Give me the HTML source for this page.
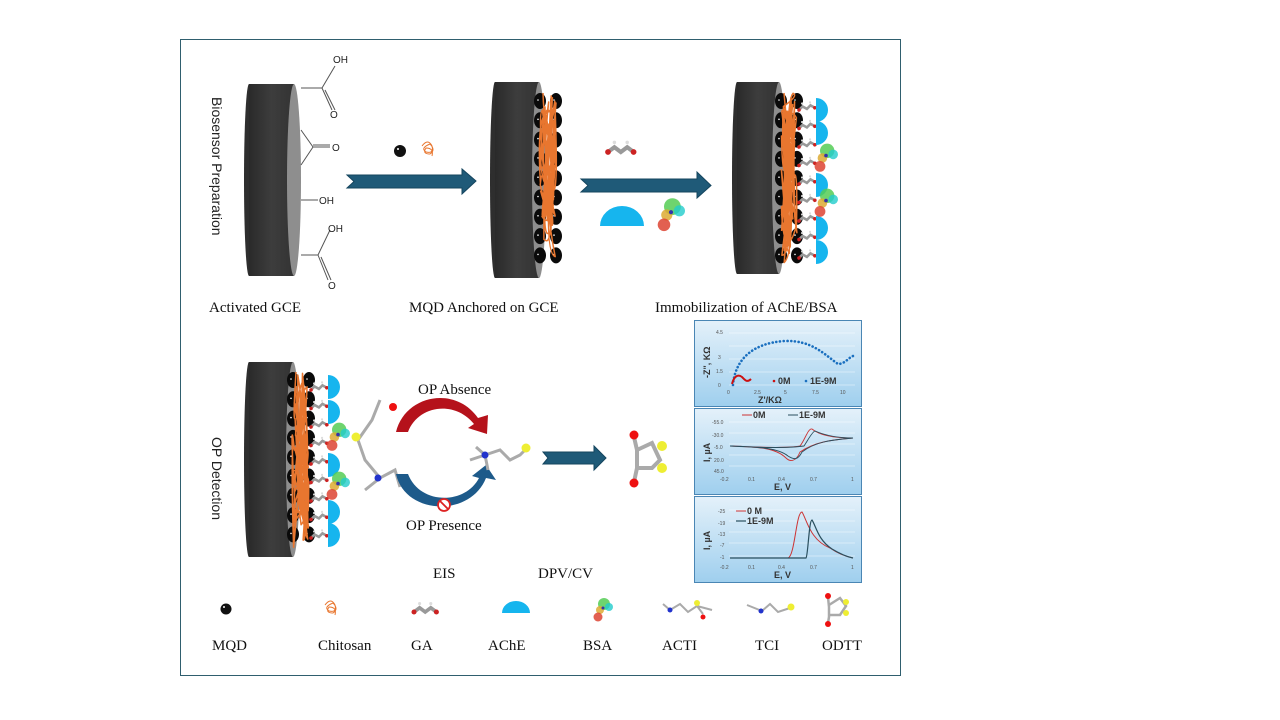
<!DOCTYPE html>
<html><head><meta charset="utf-8"><style>
html,body{margin:0;padding:0;background:#fff;}
svg{display:block;}
.t{font-family:"Liberation Serif",serif;font-size:15px;fill:#111;}
.s{font-family:"Liberation Sans",sans-serif;fill:#222;}
.ax{font-family:"Liberation Sans",sans-serif;font-size:5px;fill:#555;}
.lb{font-family:"Liberation Sans",sans-serif;font-size:9px;font-weight:bold;fill:#333;}
</style></head><body>
<svg id="s" width="1280" height="720" viewBox="0 0 1280 720" xmlns="http://www.w3.org/2000/svg">
<defs>
<linearGradient id="pg" x1="0" y1="0" x2="0" y2="1"><stop offset="0" stop-color="#e4f1fa"/><stop offset="1" stop-color="#9fcfee"/></linearGradient>
<linearGradient id="cyl" x1="0" y1="0" x2="1" y2="0"><stop offset="0" stop-color="#2a2a2a"/><stop offset="0.5" stop-color="#3d3d3d"/><stop offset="1" stop-color="#333"/></linearGradient>
<g id="ga"><path d="M0 0 l4 -3 l4 3 l4 -3 l4 3" fill="none" stroke="#999" stroke-width="2.6"/><circle cx="0" cy="0" r="1.8" fill="#c22"/><circle cx="16" cy="0" r="1.8" fill="#c22"/><circle cx="4" cy="-6" r="1.1" fill="#ddd"/><circle cx="12" cy="-6" r="1.1" fill="#ddd"/></g>
<g id="bsa"><circle cx="6" cy="-6" r="6" fill="#5c5" opacity=".85"/><circle cx="11" cy="-3" r="4" fill="#2cc" opacity=".8"/><circle cx="2" cy="0" r="4" fill="#da3" opacity=".85"/><circle cx="0" cy="7" r="4.5" fill="#d43" opacity=".85"/><circle cx="5" cy="-2" r="1.5" fill="#33a"/></g>
</defs>
<rect x="180.5" y="39.5" width="720" height="636" fill="#fff" stroke="#2f5e6e" stroke-width="1"/>

<text class="s" font-size="14" transform="translate(212,97) rotate(90)">Biosensor Preparation</text>
<text class="s" font-size="14" transform="translate(212,437) rotate(90)">OP Detection</text>

<g id="elecs"></g>

<g stroke="#555" stroke-width="1" fill="none">
<path d="M301 88 L322 88 L335 66 M322 88 L332 110 M325 90 L335 110"/>
<path d="M301 130 L313 147 L301 165 M313 147 L330 147 M313 145 L330 145"/>
<path d="M301 200 L318 200"/>
<path d="M301 255 L318 255 L330 230 M318 255 L328 280 M321 257 L331 280"/>
</g>
<g class="s" font-size="10">
<text x="333" y="63">OH</text><text x="330" y="118">O</text>
<text x="332" y="151">O</text><text x="319" y="204">OH</text>
<text x="328" y="232">OH</text><text x="328" y="289">O</text>
</g>

<path d="M347 175 L462 175 L462 169 L476 181 L462 194 L462 188 L347 188 L354 181.5 Z" fill="#1f5a78" stroke="#15455e"/>
<path d="M581 179 L697 179 L697 172 L711 185.5 L697 198 L697 192 L581 192 L588 185.5 Z" fill="#1f5a78" stroke="#15455e"/>
<path d="M543 452 L594 452 L594 446 L606 458 L594 470 L594 464 L543 464 L548 458 Z" fill="#1f5a78" stroke="#15455e"/>

<circle cx="400" cy="151" r="6" fill="#111"/><circle cx="398" cy="149" r="1" fill="#fff"/>
<g fill="none" stroke="#e8762f" stroke-width="1"><path d="M422 146 q6 -8 10 0 q2 8 -6 6 q-6 -4 4 -8 q6 6 0 10 q-8 0 -4 -6 q8 0 6 8"/></g>

<g transform="translate(608,152) scale(1.6)"><use href="#ga"/></g>
<path d="M600 226 A22 20 0 0 1 644 226 Z" fill="#16b5ee"/>
<g transform="translate(664,215) scale(1.4)"><use href="#bsa"/></g>

<text class="t" x="209" y="312">Activated GCE</text>
<text class="t" x="409" y="312">MQD Anchored on GCE</text>
<text class="t" x="655" y="312">Immobilization of AChE/BSA</text>

<g>
<path d="M380 400 L372 420 L358 440 L365 460 L380 478 L395 470 L400 487 M380 478 L365 490" stroke="#aaa" stroke-width="3" fill="none"/>
<circle cx="393" cy="407" r="4" fill="#e11"/><circle cx="356" cy="437" r="4.5" fill="#ee3"/>
<circle cx="378" cy="478" r="3.5" fill="#23c"/>
</g>
<path d="M396 432 C405 395 455 385 478 418 L488 415 L487 434 L468 428 L474 424 C455 400 418 405 408 432 Z" fill="#b5121b"/>
<path d="M396 474 C405 515 470 518 486 478 L496 480 L486 465 L472 476 L479 478 C465 505 420 505 408 474 Z" fill="#1d5a8a"/>
<circle cx="444" cy="505" r="6" fill="#fff" stroke="#d22" stroke-width="1.8"/><path d="M440 501 L448 509" stroke="#d22" stroke-width="1.8"/>
<text class="t" x="418" y="394">OP Absence</text>
<text class="t" x="406" y="530">OP Presence</text>
<g>
<path d="M470 460 L485 455 L500 450 L510 460 L520 455 L527 448 M485 455 L488 470 M485 455 L476 447" stroke="#aaa" stroke-width="3" fill="none"/>
<circle cx="485" cy="455" r="3.5" fill="#23c"/><circle cx="526" cy="448" r="4.5" fill="#ee3"/>
</g>
<g>
<path d="M634 437 L637 450 L637 468 L634 482 M637 450 L652 443 L660 460 L652 468 L637 468" stroke="#aaa" stroke-width="4" fill="none"/>
<circle cx="634" cy="435" r="4.5" fill="#e11"/><circle cx="634" cy="483" r="4.5" fill="#e11"/>
<circle cx="662" cy="446" r="5" fill="#ee3"/><circle cx="662" cy="468" r="5" fill="#ee3"/>
</g>
<text class="t" x="433" y="578">EIS</text>
<text class="t" x="538" y="578">DPV/CV</text>

<g>
<rect x="694.5" y="320.5" width="167" height="86" fill="url(#pg)" stroke="#4a86b4"/>
<rect x="694.5" y="408.5" width="167" height="86" fill="url(#pg)" stroke="#4a86b4"/>
<rect x="694.5" y="496.5" width="167" height="86" fill="url(#pg)" stroke="#4a86b4"/>
<g stroke="#fff" stroke-width=".6" opacity=".8">
<path d="M729 333 H855 M729 346 H855 M729 359 H855 M729 372 H855 M729 385 H855"/>
<path d="M729 422 H855 M729 433 H855 M729 444 H855 M729 455 H855 M729 466 H855"/>
<path d="M729 510 H855 M729 521 H855 M729 532 H855 M729 543 H855 M729 556 H855"/>
</g>
<g class="ax">
<text x="716" y="334">4.5</text><text x="718" y="359">3</text><text x="716" y="373">1.5</text><text x="718" y="387">0</text>
<text x="727" y="394">0</text><text x="754" y="394">2.5</text><text x="784" y="394">5</text><text x="812" y="394">7.5</text><text x="840" y="394">10</text>
<text x="712" y="424">-55.0</text><text x="712" y="437">-30.0</text><text x="714" y="449">-5.0</text><text x="714" y="462">20.0</text><text x="714" y="473">45.0</text>
<text x="720" y="481">-0.2</text><text x="748" y="481">0.1</text><text x="778" y="481">0.4</text><text x="810" y="481">0.7</text><text x="851" y="481">1</text>
<text x="718" y="513">-25</text><text x="718" y="525">-19</text><text x="718" y="536">-13</text><text x="720" y="547">-7</text><text x="720" y="559">-1</text>
<text x="720" y="569">-0.2</text><text x="748" y="569">0.1</text><text x="778" y="569">0.4</text><text x="810" y="569">0.7</text><text x="851" y="569">1</text>
</g>
<text class="lb" x="758" y="403">Z'/KΩ</text>
<text class="lb" x="774" y="490">E, V</text>
<text class="lb" x="774" y="578">E, V</text>
<text class="lb" transform="translate(710,378) rotate(-90)">-Z", KΩ</text>
<text class="lb" transform="translate(710,462) rotate(-90)">I, µA</text>
<text class="lb" transform="translate(710,550) rotate(-90)">I, µA</text>
<path d="M733 385 C735 360 752 343 785 341 C812 340 825 355 838 364 C845 364 848 358 853 356" fill="none" stroke="#1a6fbf" stroke-width="2.6" stroke-dasharray="0.1 3.6" stroke-linecap="round"/>
<path d="M732 384 C734 376 738 374 742 377 C745 380 747 383 751 379" fill="none" stroke="#c11" stroke-width="2"/>
<circle cx="774" cy="381" r="1.3" fill="#c11"/><text class="lb" x="778" y="384" font-size="7">0M</text>
<circle cx="806" cy="381" r="1.3" fill="#1a6fbf"/><text class="lb" x="810" y="384" font-size="7">1E-9M</text>
<path d="M730 446 C770 448 790 448 800 446 C805 440 808 428 812 429 C818 434 830 438 853 438 C830 440 815 442 800 452 C796 462 790 462 786 458 C776 448 760 447 730 446" fill="none" stroke="#c33" stroke-width=".9"/>
<path d="M730 446 C770 448 790 448 804 446 C808 440 812 432 815 431 C822 434 835 438 853 438 C830 440 815 442 802 452 C798 460 794 460 788 456 C778 448 760 447 730 446" fill="none" stroke="#2a4f5e" stroke-width=".9"/>
<path d="M742 415 H752" stroke-width="1" stroke="#c33"/><path d="M788 415 H798" stroke="#2a4f5e"/>
<text class="lb" x="753" y="418" font-size="7">0M</text><text class="lb" x="799" y="418" font-size="7">1E-9M</text>
<path d="M730 558 L788 558 C795 556 796 512 802 512 C807 520 810 540 830 548 C840 555 848 557 853 558" fill="none" stroke="#c33" stroke-width="1"/>
<path d="M730 558 L806 558 C808 556 809 520 812 520 C816 526 818 540 832 549 C842 555 848 557 853 558" fill="none" stroke="#2a4f5e" stroke-width="1.2"/>
<path d="M736 511 H746" stroke="#c33"/><path d="M736 521 H746" stroke="#2a4f5e" stroke-width="1.2"/>
<text class="lb" x="747" y="514" font-size="7">0 M</text><text class="lb" x="747" y="524" font-size="7">1E-9M</text>
</g>

<circle cx="226" cy="609" r="5.5" fill="#111"/><circle cx="224" cy="607" r="1" fill="#fff"/>
<g fill="none" stroke="#e8762f" stroke-width="1"><path d="M325 605 q6 -8 10 0 q2 8 -6 6 q-6 -4 4 -8 q6 6 0 10 q-8 0 -4 -6 q8 0 6 8"/></g>
<g transform="translate(414,612) scale(1.4)"><use href="#ga"/></g>
<path d="M502 613 A14 12 0 0 1 530 613 Z" fill="#16b5ee"/>
<g transform="translate(598,610)"><use href="#bsa"/></g>
<g stroke="#aaa" stroke-width="2" fill="none"><path d="M663 604 L670 610 L680 604 L688 612 L697 606 L703 614 M697 606 L712 610"/><path d="M747 605 L762 611 L770 604 L778 612 L790 608"/></g>
<circle cx="670" cy="610" r="2.5" fill="#23c"/><circle cx="697" cy="603" r="3" fill="#ee3"/><circle cx="703" cy="617" r="2.5" fill="#e11"/>
<circle cx="761" cy="611" r="2.5" fill="#23c"/><circle cx="791" cy="607" r="3.5" fill="#ee3"/>
<g stroke="#aaa" stroke-width="2.5" fill="none"><path d="M828 597 L829 607 L829 617 L828 623 M829 605 L840 598 L846 606 L840 615 L829 615"/></g>
<circle cx="828" cy="596" r="3" fill="#e11"/><circle cx="828" cy="624" r="3" fill="#e11"/><circle cx="846" cy="602" r="3" fill="#ee3"/><circle cx="846" cy="613" r="3" fill="#ee3"/>

<text class="t" x="212" y="650">MQD</text>
<text class="t" x="318" y="650">Chitosan</text>
<text class="t" x="411" y="650">GA</text>
<text class="t" x="488" y="650">AChE</text>
<text class="t" x="583" y="650">BSA</text>
<text class="t" x="662" y="650">ACTI</text>
<text class="t" x="755" y="650">TCI</text>
<text class="t" x="822" y="650">ODTT</text>
</svg>
<script>
(function(){
var NS="http://www.w3.org/2000/svg",g=document.getElementById("elecs");
function el(t,a){var e=document.createElementNS(NS,t);for(var k in a)e.setAttribute(k,a[k]);g.appendChild(e);return e;}
function cyl(x,y1,y2,w){var cy=(y1+y2)/2,ry=(y2-y1)/2;
el("ellipse",{cx:x+5,cy:cy,rx:5,ry:ry,fill:"#2e2e2e"});
el("rect",{x:x+5,y:y1,width:w,height:y2-y1,fill:"url(#cyl)"});
el("ellipse",{cx:x+5+w,cy:cy,rx:7,ry:ry,fill:"#8e8e8e"});}
var seed=3;function r(){seed=(seed*9301+49297)%233280;return seed/233280;}
function mqd(x,y1,y2){for(var y=y1;y<=y2;y+=19.3){[x,x+16].forEach(function(cx){el("ellipse",{cx:cx,cy:y,rx:6,ry:8,fill:"#0a0a0a"});el("circle",{cx:cx-2,cy:y-1,r:.8,fill:"#fff"});});}
var d="M"+(x+3)+" "+(y1-8);for(var i=0;i<45;i++){d+=" Q"+(x-4+r()*24).toFixed(1)+" "+(y1-8+r()*(y2-y1+16)).toFixed(1)+" "+(x+r()*16).toFixed(1)+" "+(y1-8+r()*(y2-y1+16)).toFixed(1);}
el("path",{d:d,fill:"none",stroke:"#e8762f","stroke-width":1.5,"stroke-linejoin":"round"});}
function ga(x,y1,y2){for(var y=y1;y<=y2;y+=18.5){var u=el("use",{href:"#ga",x:x,y:y});u.setAttribute("transform","rotate(-8 "+x+" "+y+")");}}
function ache(x,ys){ys.forEach(function(y){el("path",{d:"M"+x+" "+(y-12)+" A12 12 0 0 1 "+x+" "+(y+12)+" Z",fill:"#16b5ee"});});}
function bsa(x,ys){ys.forEach(function(y){var u=el("g",{transform:"translate("+x+","+y+") scale(1.2)"});var v=document.createElementNS(NS,"use");v.setAttribute("href","#bsa");u.appendChild(v);});}
cyl(244,84,276,45);
cyl(490,82,278,44);mqd(540,101,256);
cyl(732,82,274,42);mqd(781,101,256);ga(799,110,260);ache(816,[110,133,185,228,252]);bsa(820,[158,203]);
cyl(244,362,557,44);mqd(293,380,540);ga(311,390,545);ache(328,[387,412,465,512,535]);bsa(332,[437,486]);
})();
</script>
</body></html>
